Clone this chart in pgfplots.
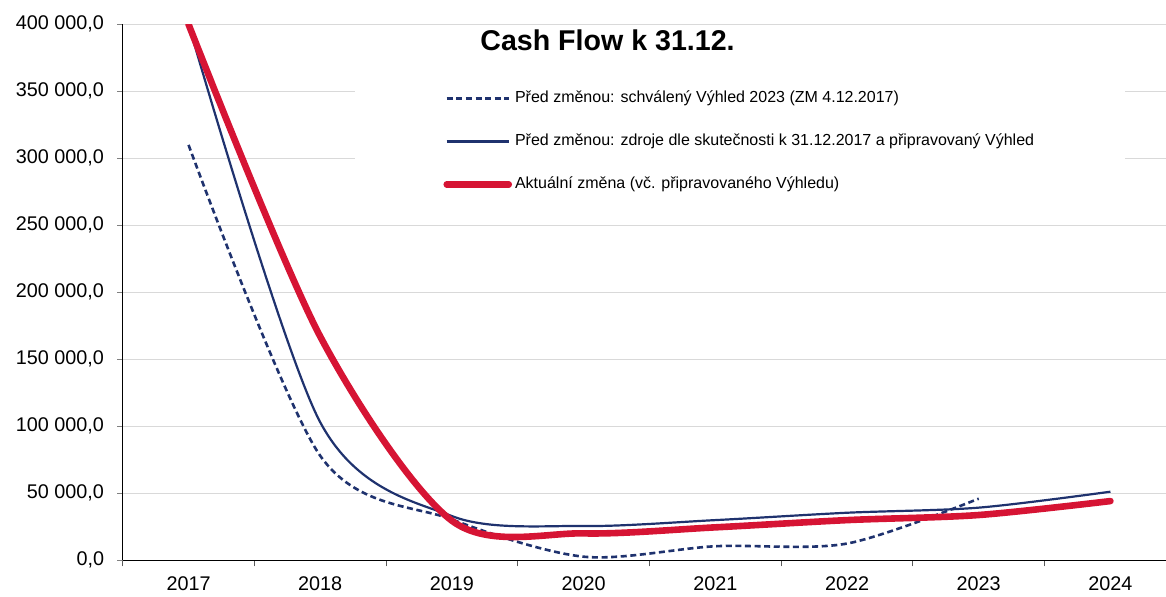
\documentclass[border=0pt]{standalone}
\usepackage{fontspec}
\setmainfont{Liberation Sans}
\usepackage{pgfplots}
\pgfplotsset{compat=1.18}
\definecolor{navy}{RGB}{31,50,110}
\definecolor{cfred}{RGB}{214,20,52}
\begin{document}
\begin{tikzpicture}
\begin{axis}[
  name=ax,
  scale only axis,
  width=521.65pt, height=268pt,
  xmin=-0.5, xmax=7.422,
  ymin=0, ymax=400000,
  axis x line*=bottom, axis y line*=left,
  axis line style={black, line width=0.6pt},
  xtick={0,...,7},
  xticklabels={2017,2018,2019,2020,2021,2022,2023,2024},
  major x tick style={draw=none},
  minor xtick={-0.5,0.5,1.5,2.5,3.5,4.5,5.5,6.5},
  minor x tick style={black!65, line width=0.5pt},
  minor tick length=3pt,
  ytick={0,50000,100000,150000,200000,250000,300000,350000,400000},
  yticklabels={{0,0},{50 000,0},{100 000,0},{150 000,0},{200 000,0},{250 000,0},{300 000,0},{350 000,0},{400 000,0}},
  y tick style={black!50, line width=0.5pt},
  major tick length=2.8pt,
  tick align=outside,
  scaled y ticks=false,
  /pgf/number format/assume math mode=true,
  ymajorgrids,
  grid style={black!15, line width=0.5pt},
  tick label style={font=\fontsize{9.9}{11}\selectfont},
  yticklabel style={xshift=-3pt},
  xticklabel style={yshift=-2pt},
  title={Cash Flow k 31.12.},
  title style={at={(0.4647,0.9707)}, anchor=center, yshift=-6pt, font=\bfseries\fontsize{14.3}{16}\selectfont},
  legend style={at={(0.2227,0.9147)}, anchor=north west, fill=white, draw=none,
    inner xsep=44pt, inner ysep=10pt, row sep=13.5pt,
    font=\fontsize{8}{9.6}\selectfont,
    nodes={inner xsep=1.5pt, inner ysep=0pt, text height=6pt, text depth=2pt}},
  legend cell align=left,
  legend image code/.code={\draw[#1] (0pt,0pt) -- (31pt,0pt);},
]
\addplot[navy, line width=1.3pt, dash pattern=on 3pt off 1.8pt, smooth, tension=0.5]
  coordinates {(0,310000) (1,78000) (2,30500) (3,2700) (4,10500) (5,12500) (6,46000)};
\addlegendentry{Před změnou: schválený Výhled 2023 (ZM 4.12.2017)}
\addplot[navy, line width=1.1pt, smooth, tension=0.5]
  coordinates {(0,400000) (1,103000) (2,33000) (3,25600) (4,30000) (5,35500) (6,39300) (7,51200)};
\addlegendentry{Před změnou: zdroje dle skutečnosti k 31.12.2017 a připravovaný Výhled}
\addplot[cfred, line width=3.3pt, line cap=round, smooth, tension=0.5]
  coordinates {(0,400000) (1,167000) (2,29500) (3,20100) (4,24600) (5,30000) (6,33800) (7,44200)};
\addlegendentry{Aktuální změna (vč. připravovaného Výhledu)}
\end{axis}
\pgfresetboundingbox
\path[use as bounding box] ([shift={(-61.35pt,-17.85pt)}]ax.south west) rectangle ([shift={(0pt,12.15pt)}]ax.north east);
\end{tikzpicture}
\end{document}
